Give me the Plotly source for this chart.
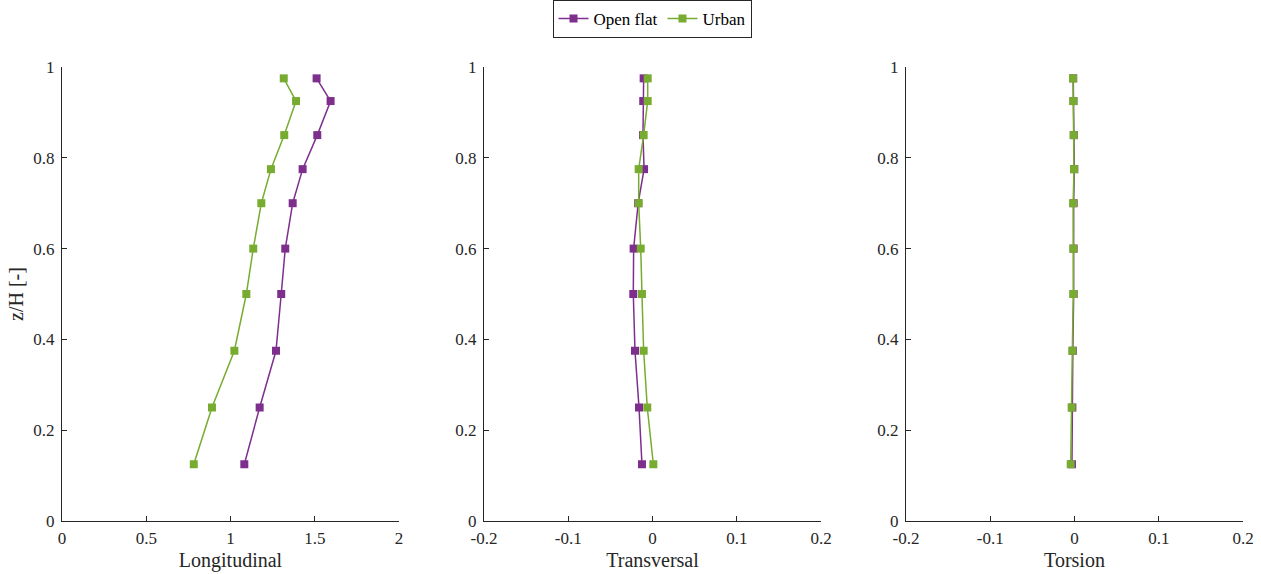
import plotly.graph_objects as go

z = [0.975, 0.925, 0.85, 0.775, 0.7, 0.6, 0.5, 0.375, 0.25, 0.125]

long_open = [1.511, 1.594, 1.515, 1.428, 1.369, 1.325, 1.301, 1.270, 1.173, 1.082]
long_urban = [1.316, 1.389, 1.319, 1.240, 1.183, 1.135, 1.094, 1.023, 0.890, 0.782]

trans_open = [-0.0105, -0.011, -0.0113, -0.010, -0.017, -0.0224, -0.0228, -0.0208, -0.016, -0.0125]
trans_urban = [-0.0057, -0.0057, -0.0105, -0.0164, -0.0164, -0.014, -0.0125, -0.0105, -0.0062, 0.001]

tors_open = [-0.0015, -0.0012, -0.0008, -0.0002, -0.0010, -0.0010, -0.0010, -0.0020, -0.0025, -0.0030]
tors_urban = [-0.0018, -0.0014, -0.0010, -0.0006, -0.0016, -0.0014, -0.0014, -0.0026, -0.0034, -0.0045]

panel_titles = ["Longitudinal", "Transversal", "Torsion"]
series_names = ["Open flat", "Urban"]
colors = ["#7E2F8E", "#77AC30"]

x_ticks_long = [0, 0.5, 1, 1.5, 2]
x_ticks_other = [-0.2, -0.1, 0, 0.1, 0.2]
y_ticks = [0, 0.2, 0.4, 0.6, 0.8, 1]

W, H = 1261, 574
font_family = "Liberation Serif"
axis_color = "#262626"

fig = go.Figure()

panels = [
    (long_open, long_urban),
    (trans_open, trans_urban),
    (tors_open, tors_urban),
]
x_pix = [(62, 399), (484, 821), (906, 1243)]
y_top, y_bot = 67, 521
ydom = [1 - y_bot / H, 1 - y_top / H]

for i, (o, u) in enumerate(panels):
    xa = "x" if i == 0 else f"x{i+1}"
    ya = "y" if i == 0 else f"y{i+1}"
    for j, vals in enumerate([o, u]):
        fig.add_trace(go.Scatter(
            x=vals, y=z, mode="lines+markers", name=series_names[j],
            line=dict(color=colors[j], width=1.5),
            marker=dict(symbol="square", size=8, color=colors[j]),
            xaxis=xa, yaxis=ya, showlegend=(i == 0),
        ))

layout = dict(
    width=W, height=H,
    margin=dict(l=0, r=0, t=0, b=0),
    paper_bgcolor="white", plot_bgcolor="white",
    font=dict(family=font_family, size=13, color=axis_color),
    legend=dict(
        orientation="h",
        x=652 / W, y=1, xanchor="center", yanchor="top",
        bordercolor="#262626", borderwidth=1, bgcolor="white",
        font=dict(size=17, family=font_family, color="black"),
        itemwidth=30, tracegroupgap=0,
    ),
)

for i in range(3):
    xk = "xaxis" if i == 0 else f"xaxis{i+1}"
    yk = "yaxis" if i == 0 else f"yaxis{i+1}"
    ya = "y" if i == 0 else f"y{i+1}"
    xa = "x" if i == 0 else f"x{i+1}"
    x0, x1 = x_pix[i]
    if i == 0:
        rng = [0, 2]
        tv = x_ticks_long
        tt = ["0", "0.5", "1", "1.5", "2"]
    else:
        rng = [-0.2, 0.2]
        tv = x_ticks_other
        tt = ["-0.2", "-0.1", "0", "0.1", "0.2"]
    layout[xk] = dict(
        domain=[x0 / W, x1 / W], range=rng, anchor=ya,
        tickvals=tv, ticktext=tt, ticks="inside", ticklen=5, tickcolor=axis_color,
        showline=True, linecolor=axis_color, linewidth=1, mirror=False,
        showgrid=False, zeroline=False, automargin=False, ticklabelstandoff=2,
        tickfont=dict(size=17, family=font_family, color=axis_color),
        title=dict(text=panel_titles[i], font=dict(size=20, family=font_family, color=axis_color), standoff=5),
    )
    layout[yk] = dict(
        domain=ydom, range=[0, 1], anchor=xa,
        tickvals=y_ticks, ticktext=["0", "0.2", "0.4", "0.6", "0.8", "1"],
        ticks="inside", ticklen=5, tickcolor=axis_color,
        showline=True, linecolor=axis_color, linewidth=1, mirror=False,
        showgrid=False, zeroline=False, automargin=False, ticklabelstandoff=3,
        tickfont=dict(size=17, family=font_family, color=axis_color),
    )
    if i == 0:
        layout[yk]["title"] = dict(text="z/H [-]", font=dict(size=20, family=font_family, color=axis_color), standoff=4)

fig.update_layout(**layout)
fig.write_html(
    "out.html",
    config={"displayModeBar": False},
    post_script="document.body.style.margin='0';document.body.style.overflow='hidden';",
)
